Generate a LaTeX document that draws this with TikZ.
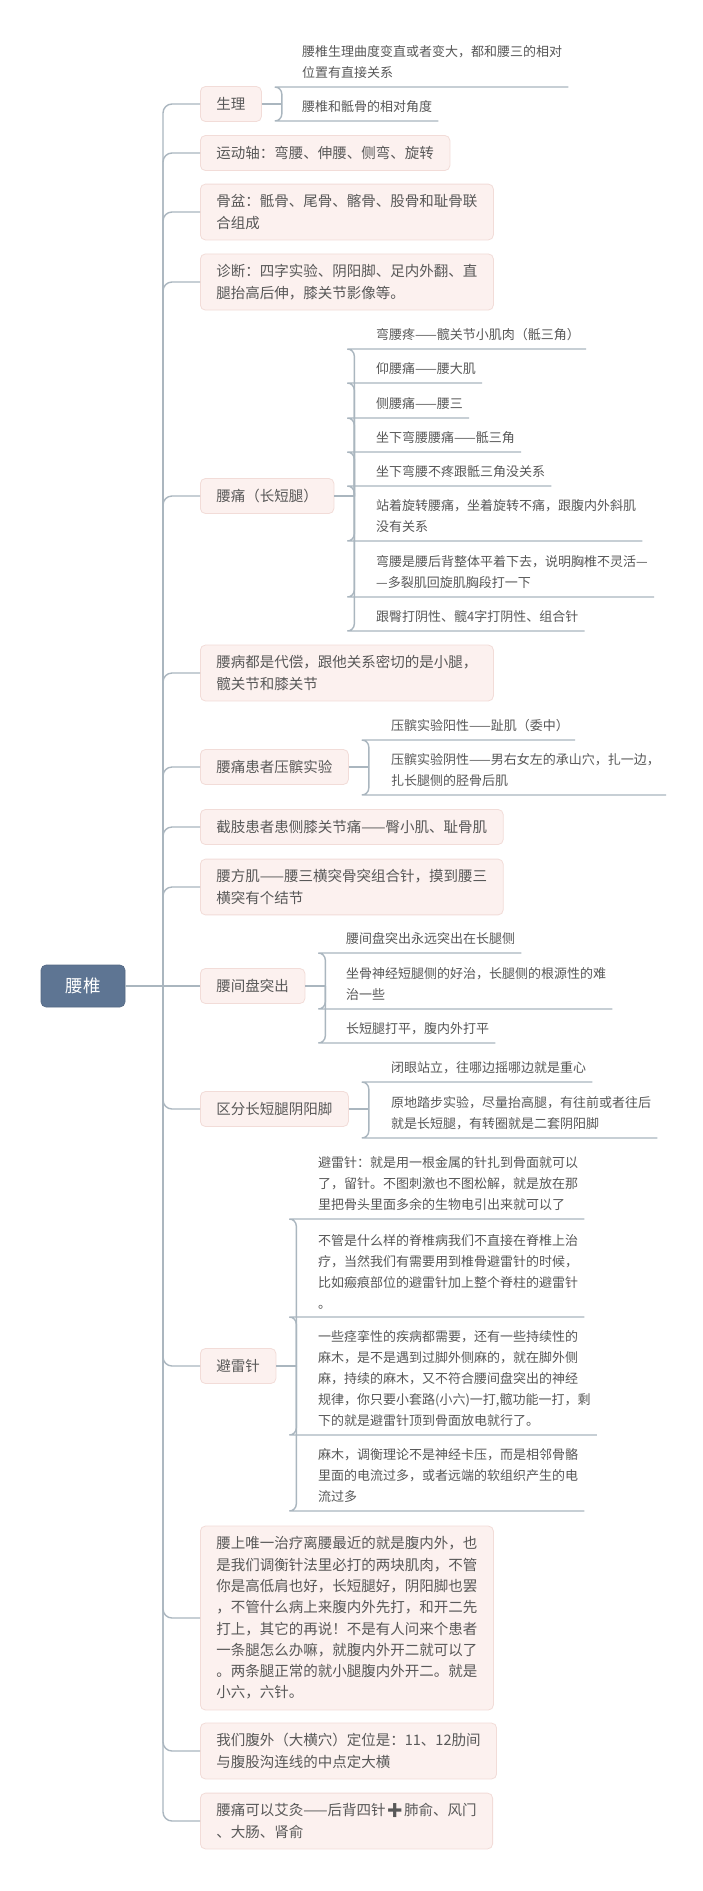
\documentclass[tikz,border=0pt]{standalone}
\usepackage{fontspec}
\usepackage{xcolor}
\usepackage{tikz}
\usetikzlibrary{positioning}
\newfontfamily\cjk{Noto Sans CJK SC}
\newfontfamily\emoji{Noto Emoji}
\definecolor{rootblue}{RGB}{94,117,147}
\definecolor{topicfill}{RGB}{252,241,239}
\definecolor{topicline}{RGB}{242,220,216}
\definecolor{linkgray}{RGB}{170,182,191}
\definecolor{textgray}{RGB}{88,88,88}
\tikzset{
    root/.style={
        rectangle,
        fill=rootblue,
        draw=rootblue!90!black,
        rounded corners=5pt,
        minimum width=84pt,
        minimum height=42pt,
        text=white,
        font=\cjk\fontsize{17.5}{21}\selectfont,
        line width=0.6pt
    },
    topic/.style={
        rectangle,
        fill=topicfill,
        draw=topicline,
        rounded corners=5pt,
        anchor=west,
        align=left,
        inner xsep=16pt,
        inner ysep=10.5pt,
        minimum height=35pt,
        text=textgray,
        font=\cjk\fontsize{14.5}{21.3}\selectfont,
        line width=0.8pt
    },
    leaf/.style={
        anchor=south west,
        align=left,
        inner xsep=0pt,
        inner ysep=8pt,
        text=textgray,
        font=\cjk\fontsize{13}{21}\selectfont
    },
    branch/.style={
        draw=linkgray,
        line width=1.4pt,
        rounded corners=9pt
    },
    twig/.style={
        draw=linkgray,
        line width=1.4pt,
        rounded corners=7pt
    }
}

\begin{document}
\begin{tikzpicture}[x=1pt, y=-1pt]
    \path[use as bounding box, fill=white] (0,0) rectangle (702,1891);

    \node[root] (root) at (83,986) {腰椎};
    \coordinate (hub) at (163,986);

    % Main topics
    \node[topic] (physio) at (200,104) {生理};
    \node[topic] (motion) at (200,153) {运动轴：弯腰、伸腰、侧弯、旋转};
    \node[topic] (pelvis) at (200,212) {骨盆：骶骨、尾骨、髂骨、股骨和耻骨联\\合组成};
    \node[topic] (diagnosis) at (200,282) {诊断：四字实验、阴阳脚、足内外翻、直\\腿抬高后伸，膝关节影像等。};
    \node[topic] (pain) at (200,496) {腰痛（长短腿）};
    \node[topic] (compensation) at (200,673) {腰病都是代偿，跟他关系密切的是小腿，\\髋关节和膝关节};
    \node[topic] (patella) at (200,767) {腰痛患者压髌实验};
    \node[topic] (amputee) at (200,827) {截肢患者患侧膝关节痛——臀小肌、耻骨肌};
    \node[topic] (quadratus) at (200,887) {腰方肌——腰三横突骨突组合针，摸到腰三\\横突有个结节};
    \node[topic] (disc) at (200,986) {腰间盘突出};
    \node[topic] (legs) at (200,1109) {区分长短腿阴阳脚};
    \node[topic] (lightning) at (200,1366) {避雷针};
    \node[topic] (abdomen) at (200,1618) {腰上唯一治疗离腰最近的就是腹内外，也\\是我们调衡针法里必打的两块肌肉，不管\\你是高低肩也好，长短腿好，阴阳脚也罢\\，不管什么病上来腹内外先打，和开二先\\打上，其它的再说！不是有人问来个患者\\一条腿怎么办嘛，就腹内外开二就可以了\\。两条腿正常的就小腿腹内外开二。就是\\小六，六针。};
    \node[topic] (locate) at (200,1751) {我们腹外（大横穴）定位是：11、12肋间\\与腹股沟连线的中点定大横};
    \node[topic] (moxa) at (200,1821) {腰痛可以艾灸——后背四针{\emoji ➕}肺俞、风门\\、大肠、肾俞};

    % Junctions
    \foreach \n in {physio, pain, patella, disc, legs, lightning} {
        \coordinate[right=20pt of \n] (\n-j);
    }

    % Sub-topics
    \node[leaf] (physio1) at (302,87) {腰椎生理曲度变直或者变大，都和腰三的相对\\位置有直接关系};
    \node[leaf] (physio2) at (302,121) {腰椎和骶骨的相对角度};

    \node[leaf] (pain1) at (376,349) {弯腰疼——髋关节小肌肉（骶三角）};
    \node[leaf] (pain2) at (376,383) {仰腰痛——腰大肌};
    \node[leaf] (pain3) at (376,418) {侧腰痛——腰三};
    \node[leaf] (pain4) at (376,452) {坐下弯腰腰痛——骶三角};
    \node[leaf] (pain5) at (376,486) {坐下弯腰不疼跟骶三角没关系};
    \node[leaf] (pain6) at (376,541) {站着旋转腰痛，坐着旋转不痛，跟腹内外斜肌\\没有关系};
    \node[leaf] (pain7) at (376,597) {弯腰是腰后背整体平着下去，说明胸椎不灵活—\\—多裂肌回旋肌胸段打一下};
    \node[leaf] (pain8) at (376,631) {跟臀打阴性、髋4字打阴性、组合针};

    \node[leaf] (patella1) at (391,740) {压髌实验阳性——趾肌（委中）};
    \node[leaf] (patella2) at (391,795) {压髌实验阴性——男右女左的承山穴，扎一边，\\扎长腿侧的胫骨后肌};

    \node[leaf] (disc1) at (346,953) {腰间盘突出永远突出在长腿侧};
    \node[leaf] (disc2) at (346,1009) {坐骨神经短腿侧的好治，长腿侧的根源性的难\\治一些};
    \node[leaf] (disc3) at (346,1043) {长短腿打平，腹内外打平};

    \node[leaf] (legs1) at (391,1082) {闭眼站立，往哪边摇哪边就是重心};
    \node[leaf] (legs2) at (391,1138) {原地踏步实验，尽量抬高腿，有往前或者往后\\就是长短腿，有转圈就是二套阴阳脚};

    \node[leaf] (lightning1) at (318,1219) {避雷针：就是用一根金属的针扎到骨面就可以\\了，留针。不图刺激也不图松解，就是放在那\\里把骨头里面多余的生物电引出来就可以了};
    \node[leaf] (lightning2) at (318,1317) {不管是什么样的脊椎病我们不直接在脊椎上治\\疗，当然我们有需要用到椎骨避雷针的时候，\\比如瘢痕部位的避雷针加上整个脊柱的避雷针\\。};
    \node[leaf] (lightning3) at (318,1435) {一些痉挛性的疾病都需要，还有一些持续性的\\麻木，是不是遇到过脚外侧麻的，就在脚外侧\\麻，持续的麻木，又不符合腰间盘突出的神经\\规律，你只要小套路(小六)一打,髋功能一打，剩\\下的就是避雷针顶到骨面放电就行了。};
    \node[leaf] (lightning4) at (318,1511) {麻木，调衡理论不是神经卡压，而是相邻骨骼\\里面的电流过多，或者远端的软组织产生的电\\流过多};

    % Trunk
    \draw[branch] (root) -- (disc);
    \foreach \to in {physio, motion, pelvis, diagnosis, pain, compensation, patella,
        amputee, quadratus, legs, lightning, abdomen, locate, moxa} {
        \draw[branch] (hub) |- (\to.west);
    }

    % Twigs
    \foreach \n in {physio, pain, patella, disc, legs, lightning} {
        \draw[twig] (\n) -- (\n-j);
    }
    \foreach \from/\to in {
        physio/physio1, physio/physio2,
        pain/pain1, pain/pain2, pain/pain3, pain/pain4,
        pain/pain5, pain/pain6, pain/pain7, pain/pain8,
        patella/patella1, patella/patella2,
        disc/disc1, disc/disc2, disc/disc3,
        legs/legs1, legs/legs2,
        lightning/lightning1, lightning/lightning2,
        lightning/lightning3, lightning/lightning4%
    } {
        \draw[twig] (\from-j) |- ([xshift=-23pt]\to.south west) -- ([xshift=6pt]\to.south east);
    }
\end{tikzpicture}
\end{document}
